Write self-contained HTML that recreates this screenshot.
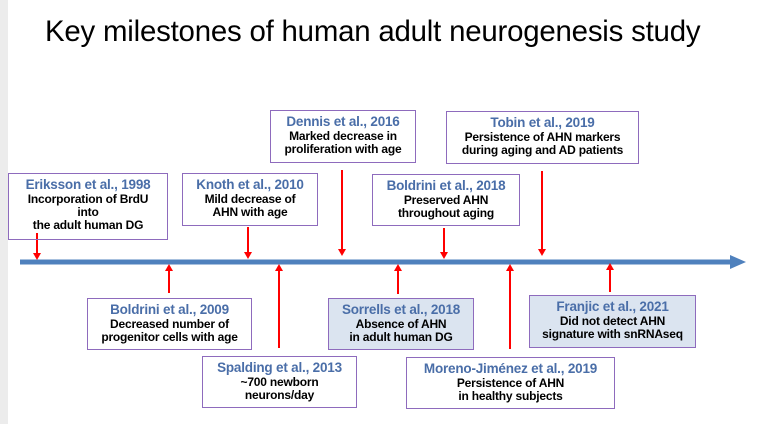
<!DOCTYPE html>
<html><head><meta charset="utf-8"><style>
body{margin:0;width:759px;height:424px;background:#fff;position:relative;overflow:hidden;font-family:"Liberation Sans",sans-serif}
.strip{position:absolute;left:0;top:0;width:8px;height:424px;background:#ececec}
h1{position:absolute;left:45px;top:15px;margin:0;font-weight:normal;font-size:29.4px;color:#000;letter-spacing:-0.2px}
.box{position:absolute;border:1.5px solid #8e6bbd;box-sizing:border-box;text-align:center;font-weight:bold;font-size:12px;line-height:13px;color:#000;padding-top:3px;letter-spacing:-0.2px}
.box .t{color:#4a6ea8;font-size:13.5px;line-height:16px}
.box.f{background:#dbe4f0}
svg{position:absolute;left:0;top:0}
</style></head><body>
<div class="strip"></div>
<h1>Key milestones of human adult neurogenesis study</h1>
<svg width="759" height="424">
<line x1="20" y1="262" x2="732" y2="262" stroke="#4f81bd" stroke-width="5"/>
<polygon points="730,255 746,262 730,269" fill="#4f81bd"/>
<g id="arrows" stroke="#ff0000" stroke-width="2" fill="#ff0000"></g>
</svg>
<div class="box" style="left:8px;top:173px;width:160px;height:67px"><div class="t">Eriksson et al., 1998</div>Incorporation of BrdU<br>into<br>the adult human DG</div>
<div class="box" style="left:182px;top:173px;width:136px;height:53px"><div class="t">Knoth et al., 2010</div>Mild decrease of<br>AHN with age</div>
<div class="box" style="left:270px;top:110px;width:146px;height:53px"><div class="t">Dennis et al., 2016</div>Marked decrease in<br>proliferation with age</div>
<div class="box" style="left:446px;top:111px;width:193px;height:53px"><div class="t">Tobin et al., 2019</div>Persistence of AHN markers<br>during aging and AD patients</div>
<div class="box" style="left:372px;top:174px;width:148px;height:52px"><div class="t">Boldrini et al., 2018</div>Preserved AHN<br>throughout aging</div>
<div class="box" style="left:87px;top:298px;width:165px;height:52px"><div class="t">Boldrini et al., 2009</div>Decreased number of<br>progenitor cells with age</div>
<div class="box" style="left:202px;top:356px;width:155px;height:52px"><div class="t">Spalding et al., 2013</div>~700 newborn<br>neurons/day</div>
<div class="box f" style="left:328px;top:298px;width:146px;height:52px"><div class="t">Sorrells et al., 2018</div>Absence of AHN<br>in adult human DG</div>
<div class="box" style="left:406px;top:357px;width:209px;height:52px"><div class="t">Moreno-Jiménez et al., 2019</div>Persistence of AHN<br>in healthy subjects</div>
<div class="box f" style="left:529px;top:295px;width:167px;height:53px"><div class="t">Franjic et al., 2021</div>Did not detect AHN<br>signature with snRNAseq</div>
<script>
const arrowX=[37,248,342,444,542,169,279,398,510,610];
const arrowFrom=[233,227,170,228,171,293,348,294,349,292];
const arrowTo=[260,259,256,259,256,264,264,264,264,263];
const g=document.getElementById('arrows');const ns='http://www.w3.org/2000/svg';
arrowX.forEach((x,i)=>{const a=arrowFrom[i],b=arrowTo[i],d=b>a?1:-1;
const l=document.createElementNS(ns,'line');l.setAttribute('x1',x);l.setAttribute('y1',a);l.setAttribute('x2',x);l.setAttribute('y2',b-d*5);


g.appendChild(l);
const p=document.createElementNS(ns,'polygon');p.setAttribute('points',`${x-4},${b-d*7} ${x+4},${b-d*7} ${x},${b}`);p.setAttribute('stroke','none');


g.appendChild(p);});
</script>
</body></html>
